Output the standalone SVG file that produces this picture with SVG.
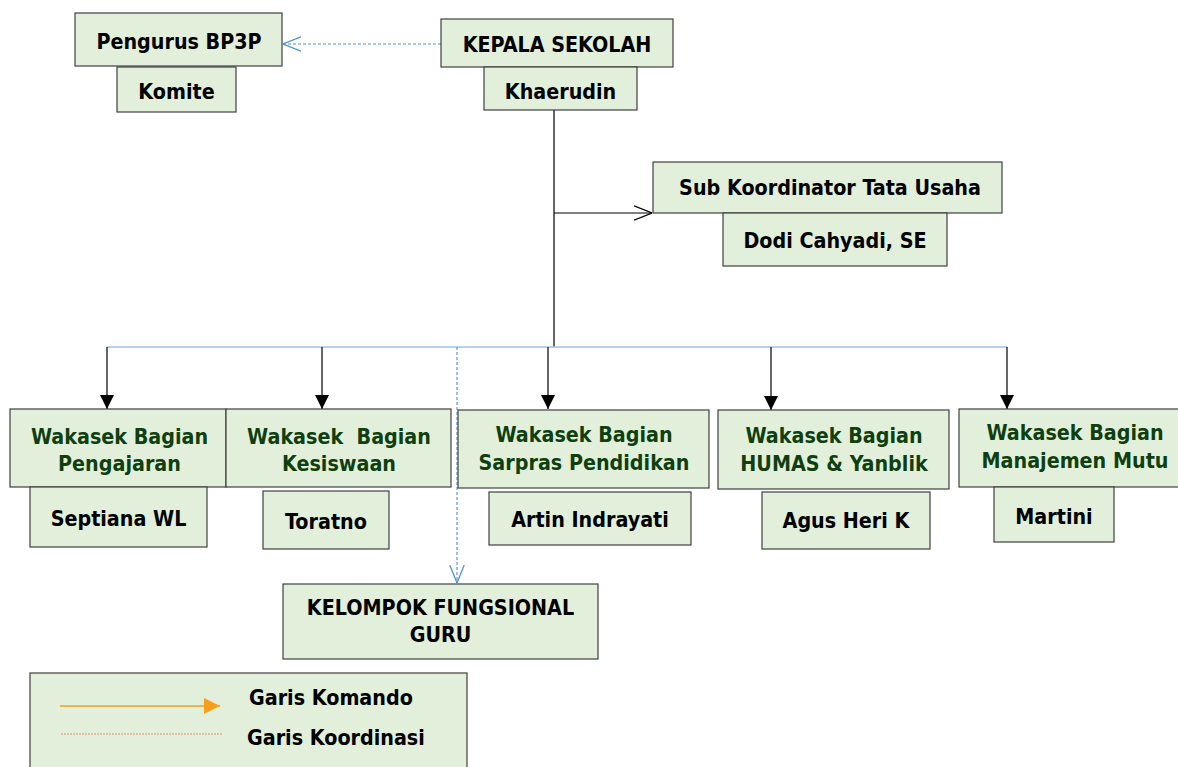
<svg xmlns="http://www.w3.org/2000/svg" width="1178" height="767" viewBox="0 0 1178 767">
<style>
.box{fill:#e2efda;stroke:#404040;stroke-width:1.2}
.t{font-family:"DejaVu Sans Condensed","DejaVu Sans",Verdana,sans-serif;font-stretch:condensed;font-weight:bold;font-size:21.3px;fill:#000;text-anchor:middle}
.g{fill:#0f3f0f}
.cmd{stroke:#000;stroke-width:1.2;fill:none}
.crd{stroke:#4a8fd6;stroke-width:1.1;stroke-dasharray:3,2;fill:none}
</style>
<defs>
<marker id="tri" viewBox="0 0 10 10" refX="10" refY="5" markerWidth="14" markerHeight="14" markerUnits="userSpaceOnUse" orient="auto"><path d="M0,0L10,5L0,10z" fill="#000"/></marker>
<marker id="openB" viewBox="0 0 10 10" refX="10" refY="5" markerWidth="18" markerHeight="18" markerUnits="userSpaceOnUse" orient="auto"><path d="M0,1L10,5L0,9" fill="none" stroke="#000" stroke-width="0.7"/></marker>
<marker id="openBlue" viewBox="0 0 10 10" refX="10" refY="5" markerWidth="18" markerHeight="18" markerUnits="userSpaceOnUse" orient="auto"><path d="M0,1L10,5L0,9" fill="none" stroke="#4a8fd6" stroke-width="0.7"/></marker>
<marker id="orange" viewBox="0 0 10 10" refX="10" refY="5" markerWidth="16" markerHeight="16" markerUnits="userSpaceOnUse" orient="auto"><path d="M0,0L10,5L0,10z" fill="#f5a01a"/></marker>
</defs>
<rect width="1178" height="767" fill="#fff"/>

<g id="connectors">
<path class="crd" d="M441,44H283" marker-end="url(#openBlue)"/>
<path class="cmd" d="M554,110V347"/>
<path class="cmd" d="M554,213H652" marker-end="url(#openB)"/>
<path d="M107,347H1007" stroke="#9dc3e6" stroke-width="1.3" fill="none"/>
<path class="cmd" d="M107,347V409" marker-end="url(#tri)"/>
<path class="cmd" d="M322,347V409" marker-end="url(#tri)"/>
<path class="cmd" d="M548,347V409" marker-end="url(#tri)"/>
<path class="cmd" d="M771,347V410" marker-end="url(#tri)"/>
<path class="cmd" d="M1007,347V409" marker-end="url(#tri)"/>
<path class="crd" d="M457,347V583" marker-end="url(#openBlue)"/>
</g>

<g id="pengurus"><rect class="box" x="75" y="13" width="207" height="53"/><text class="t" x="179" y="49">Pengurus BP3P</text></g>
<g id="komite"><rect class="box" x="117" y="67" width="119" height="45"/><text class="t" x="176.5" y="99">Komite</text></g>
<g id="kepala"><rect class="box" x="441" y="19" width="232" height="48"/><text class="t" x="557" y="52">KEPALA SEKOLAH</text></g>
<g id="khaerudin"><rect class="box" x="484" y="67" width="153" height="43"/><text class="t" x="560.5" y="99">Khaerudin</text></g>
<g id="subkoor"><rect class="box" x="653" y="162" width="349" height="51"/><text class="t" x="830" y="195">Sub Koordinator Tata Usaha</text></g>
<g id="dodi"><rect class="box" x="723" y="213" width="224" height="53"/><text class="t" x="835" y="248">Dodi Cahyadi, SE</text></g>

<g id="pengajaran"><rect class="box" x="10" y="409" width="216" height="78"/><text class="t g" x="119.5" y="444">Wakasek Bagian</text><text class="t g" x="119.5" y="471">Pengajaran</text></g>
<g id="septiana"><rect class="box" x="30" y="487" width="177" height="60"/><text class="t" x="118.5" y="526">Septiana WL</text></g>
<g id="kesiswaan"><rect class="box" x="226" y="409" width="225" height="78"/><text class="t g" x="339" y="444" xml:space="preserve">Wakasek  Bagian</text><text class="t g" x="339" y="471">Kesiswaan</text></g>
<g id="toratno"><rect class="box" x="263" y="491" width="126" height="58"/><text class="t" x="326" y="529">Toratno</text></g>
<g id="sarpras"><rect class="box" x="458" y="410" width="251" height="78"/><text class="t g" x="584" y="442">Wakasek Bagian</text><text class="t g" x="584" y="470">Sarpras Pendidikan</text></g>
<g id="artin"><rect class="box" x="489" y="492" width="202" height="53"/><text class="t" x="590" y="527">Artin Indrayati</text></g>
<g id="humas"><rect class="box" x="718" y="410" width="231" height="79"/><text class="t g" x="834" y="443">Wakasek Bagian</text><text class="t g" x="834" y="471">HUMAS &amp; Yanblik</text></g>
<g id="agus"><rect class="box" x="762" y="492" width="168" height="57"/><text class="t" x="846" y="528">Agus Heri K</text></g>
<g id="mutu"><rect class="box" x="959" y="409" width="232" height="78"/><text class="t g" x="1075" y="440">Wakasek Bagian</text><text class="t g" x="1075" y="468">Manajemen Mutu</text></g>
<g id="martini"><rect class="box" x="994" y="487" width="120" height="55"/><text class="t" x="1054" y="524">Martini</text></g>
<g id="kelompok"><rect class="box" x="283" y="584" width="315" height="75"/><text class="t" x="440.5" y="615">KELOMPOK FUNGSIONAL</text><text class="t" x="440.5" y="642">GURU</text></g>

<g id="legend">
<rect class="box" x="30" y="673" width="437" height="100"/>
<path d="M60,706H220" stroke="#f5a01a" stroke-width="1.5" marker-end="url(#orange)"/>
<path d="M61,734H222" stroke="#f08c6a" stroke-width="1" stroke-dasharray="2,1"/>
<text class="t" x="249" y="705" style="text-anchor:start">Garis Komando</text>
<text class="t" x="247" y="745" style="text-anchor:start">Garis Koordinasi</text>
</g>
</svg>
